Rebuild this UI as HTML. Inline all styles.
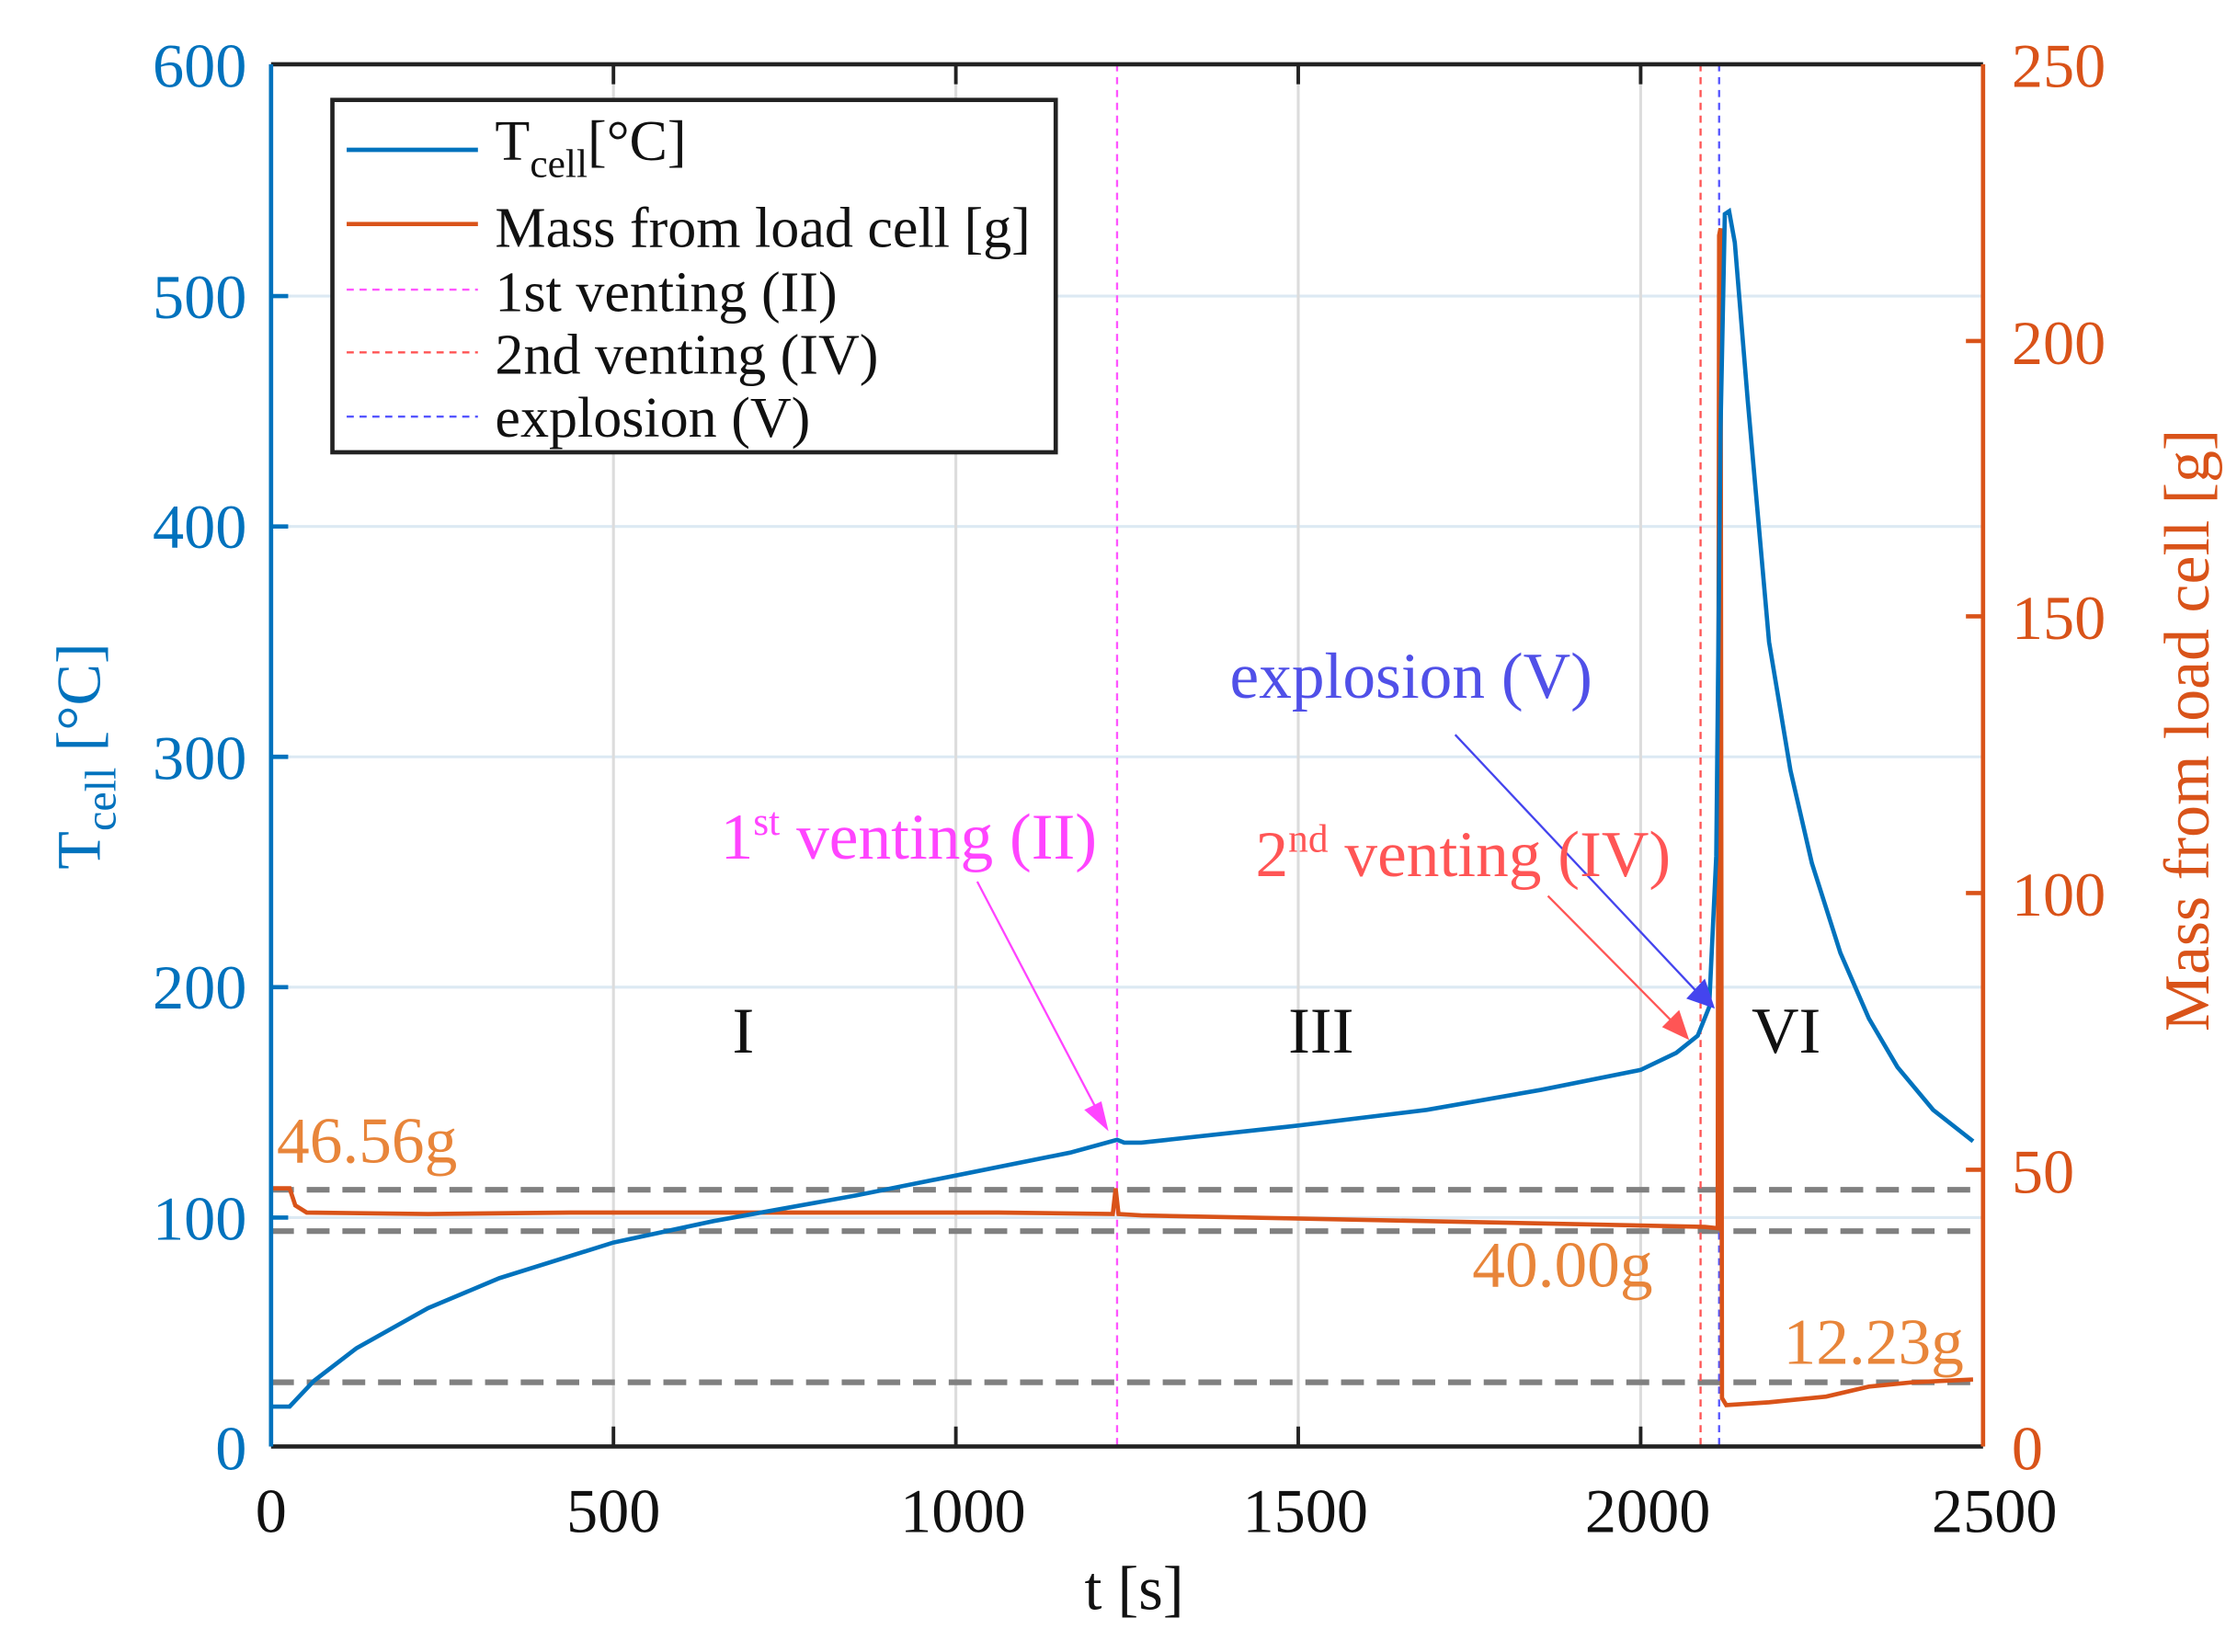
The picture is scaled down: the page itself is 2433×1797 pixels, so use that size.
<!DOCTYPE html>
<html><head><meta charset="utf-8"><style>
html,body{margin:0;padding:0;background:#fff;}
svg{display:block;}
text{font-family:"Liberation Serif",serif;}
</style></head><body>
<svg width="2433" height="1797" viewBox="0 0 1568 1158" xmlns="http://www.w3.org/2000/svg">
<!-- grid -->
<g stroke="#dce9f3" stroke-width="2">
<line x1="190" x2="1390" y1="853.5" y2="853.5"/><line x1="190" x2="1390" y1="692" y2="692"/>
<line x1="190" x2="1390" y1="530.5" y2="530.5"/><line x1="190" x2="1390" y1="369" y2="369"/>
<line x1="190" x2="1390" y1="207.5" y2="207.5"/>
</g>
<g stroke="#dcdcdc" stroke-width="2">
<line x1="430" x2="430" y1="45" y2="1014"/><line x1="670" x2="670" y1="45" y2="1014"/>
<line x1="910" x2="910" y1="45" y2="1014"/><line x1="1150" x2="1150" y1="45" y2="1014"/>
</g>
<g stroke="#808080" stroke-width="4" stroke-dasharray="16,9">
<line x1="190" x2="1390" y1="834" y2="834"/><line x1="190" x2="1390" y1="863" y2="863"/><line x1="190" x2="1390" y1="969" y2="969"/>
</g>
<line x1="783" x2="783" y1="45" y2="1014" stroke="#FF55FF" stroke-width="1.5" stroke-dasharray="5,4"/>
<line x1="1192" x2="1192" y1="45" y2="1014" stroke="#FF5555" stroke-width="1.5" stroke-dasharray="5,4"/>
<line x1="1205" x2="1205" y1="45" y2="1014" stroke="#5555FF" stroke-width="1.5" stroke-dasharray="5,4"/>
<polyline fill="none" stroke="#D95319" stroke-width="3" points="190,833 203,833 207,845 215,850 300,851 400,850 500,850 600,850 700,850 780,851 782,833 784,851 800,852 900,854 1000,856 1100,858 1195,860 1204,861 1205,165 1206,160 1207,980 1210,985 1240,983 1280,979 1310,972 1340,969 1383,967"/>
<polyline fill="none" stroke="#0072BD" stroke-width="3" points="190,986 203,986 220,968 250,945 300,917 350,896 430,871 500,856 600,838 670,824 750,808 783,799 788,801 800,801 910,789 1000,778 1080,764 1150,750 1175,738 1190,726 1198,706 1203,600 1206,300 1209,150 1212,148 1216,170 1225,280 1240,450 1255,540 1270,605 1290,668 1310,714 1330,748 1355,778 1383,800"/>
<line x1="685" y1="618" x2="772" y2="784" stroke="#FF44FF" stroke-width="1.5"/>
<polygon points="777,793 760,778 772,772" fill="#FF44FF"/>
<line x1="1085" y1="628" x2="1176" y2="720" stroke="#FF5555" stroke-width="1.5"/>
<polygon points="1184,729 1165,720 1177,708" fill="#FF5555"/>
<line x1="1020" y1="515" x2="1192" y2="698" stroke="#4444EE" stroke-width="1.5"/>
<polygon points="1202,707 1182,700 1195,686" fill="#4444EE"/>
<line x1="190" x2="1390" y1="45" y2="45" stroke="#222" stroke-width="3"/>
<line x1="190" x2="1390" y1="1014" y2="1014" stroke="#222" stroke-width="3"/>
<line x1="190" x2="190" y1="45" y2="1014" stroke="#0072BD" stroke-width="3"/>
<line x1="1390" x2="1390" y1="45" y2="1014" stroke="#D95319" stroke-width="3"/>
<g stroke="#222" stroke-width="2.5">
<line x1="430" x2="430" y1="1014" y2="1000"/><line x1="670" x2="670" y1="1014" y2="1000"/><line x1="910" x2="910" y1="1014" y2="1000"/><line x1="1150" x2="1150" y1="1014" y2="1000"/>
<line x1="430" x2="430" y1="45" y2="59"/><line x1="670" x2="670" y1="45" y2="59"/><line x1="910" x2="910" y1="45" y2="59"/><line x1="1150" x2="1150" y1="45" y2="59"/>
</g>
<g stroke="#0072BD" stroke-width="3">
<line x1="190" x2="202" y1="853.5" y2="853.5"/><line x1="190" x2="202" y1="692" y2="692"/><line x1="190" x2="202" y1="530.5" y2="530.5"/><line x1="190" x2="202" y1="369" y2="369"/><line x1="190" x2="202" y1="207.5" y2="207.5"/>
</g>
<g stroke="#D95319" stroke-width="3">
<line x1="1378" x2="1390" y1="820" y2="820"/><line x1="1378" x2="1390" y1="626" y2="626"/><line x1="1378" x2="1390" y1="432" y2="432"/><line x1="1378" x2="1390" y1="239" y2="239"/>
</g>
<g fill="#0072BD" font-size="44" text-anchor="end">
<text x="173" y="61">600</text><text x="173" y="223">500</text><text x="173" y="384">400</text><text x="173" y="546">300</text><text x="173" y="707">200</text><text x="173" y="869">100</text><text x="173" y="1030">0</text>
</g>
<g fill="#D95319" font-size="44" text-anchor="start">
<text x="1410" y="61">250</text><text x="1410" y="255">200</text><text x="1410" y="448">150</text><text x="1410" y="642">100</text><text x="1410" y="836">50</text><text x="1410" y="1030">0</text>
</g>
<g fill="#111" font-size="44" text-anchor="middle">
<text x="190" y="1074">0</text><text x="430" y="1074">500</text><text x="675" y="1074">1000</text><text x="915" y="1074">1500</text><text x="1155" y="1074">2000</text><text x="1398" y="1074">2500</text>
</g>
<text x="795" y="1128" font-size="44" text-anchor="middle" fill="#111">t [s]</text>
<text transform="translate(1548,512) rotate(-90)" font-size="45" text-anchor="middle" fill="#D95319">Mass from load cell [g]</text>
<text transform="translate(70,530) rotate(-90)" font-size="44" text-anchor="middle" fill="#0072BD">T<tspan font-size="31" dy="11">cell</tspan><tspan dy="-11"> [°C]</tspan></text>
<rect x="233" y="70" width="507" height="247" fill="#fff" stroke="#222" stroke-width="3"/>
<line x1="243" x2="335" y1="105" y2="105" stroke="#0072BD" stroke-width="3"/>
<line x1="243" x2="335" y1="157" y2="157" stroke="#D95319" stroke-width="3"/>
<line x1="243" x2="335" y1="203" y2="203" stroke="#FF55FF" stroke-width="1.5" stroke-dasharray="5,4"/>
<line x1="243" x2="335" y1="247" y2="247" stroke="#FF5555" stroke-width="1.5" stroke-dasharray="5,4"/>
<line x1="243" x2="335" y1="292" y2="292" stroke="#5555FF" stroke-width="1.5" stroke-dasharray="5,4"/>
<g fill="#111" font-size="40">
<text x="347" y="112">T<tspan font-size="28" dy="12">cell</tspan><tspan dy="-12">[°C]</tspan></text>
<text x="347" y="173">Mass from load cell [g]</text>
<text x="347" y="218">1st venting (II)</text>
<text x="347" y="262">2nd venting (IV)</text>
<text x="347" y="306">explosion (V)</text>
</g>
<g font-size="46">
<text x="505" y="602" fill="#FF44FF">1<tspan font-size="28" dy="-17">st</tspan><tspan dy="17"> venting (II)</tspan></text>
<text x="880" y="614" fill="#FF5555">2<tspan font-size="28" dy="-17">nd</tspan><tspan dy="17"> venting (IV)</tspan></text>
<text x="862" y="489" fill="#5050E8">explosion (V)</text>
<text x="194" y="815" fill="#E8853A">46.56g</text>
<text x="1032" y="902" fill="#E8853A">40.00g</text>
<text x="1250" y="956" fill="#E8853A">12.23g</text>
<text x="521" y="738" fill="#111" text-anchor="middle">I</text>
<text x="926" y="738" fill="#111" text-anchor="middle">III</text>
<text x="1252" y="738" fill="#111" text-anchor="middle">VI</text>
</g>
</svg>
</body></html>
